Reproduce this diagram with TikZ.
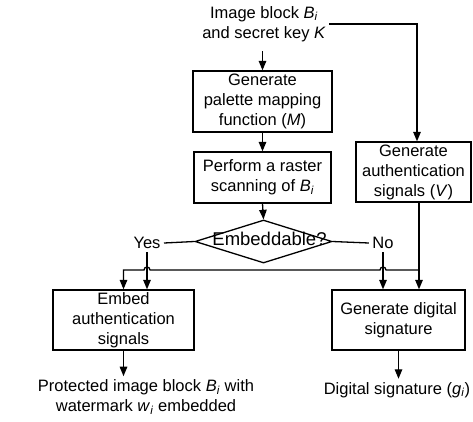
\documentclass[tikz,border=0pt]{standalone}
\usepackage{fontspec}
\setmainfont{Liberation Sans}
\usetikzlibrary{shapes.geometric,arrows.meta,calc}

% italic symbol with italic subscript
\newcommand{\symsub}[2]{\textit{#1}\textsubscript{\textit{#2}}}

\begin{document}
\begin{tikzpicture}[x=1pt,y=-1pt,
  every node/.style={font=\fontsize{16.5}{20}\selectfont, align=center},
  proc/.style={draw, line width=1.3pt, inner sep=0pt},
  conn/.style={line width=1.3pt},
  arr/.style={conn, -{Triangle[length=9.5pt,width=7.5pt]}},
]
\useasboundingbox (0,0) rectangle (473,421);

% nodes
\node (src) at (264,24) {Image block \symsub{B}{i}\\and secret key \textit{K}};
\node[proc, minimum width=139pt, minimum height=61pt] (pal) at (262.5,101.5)
  {Generate\\palette mapping\\function (\textit{M})};
\node[proc, minimum width=137pt, minimum height=51pt] (scan) at (262.5,177.5)
  {Perform a raster\\scanning of \symsub{B}{i}};
\node[proc, minimum width=115pt, minimum height=60pt] (auth) at (413.5,172)
  {Generate\\authentication\\signals (\textit{V})};
\node[draw, diamond, line width=1.3pt, minimum width=137pt, minimum height=43pt,
  inner sep=0pt, label={[xshift=6pt, yshift=3pt, font=\fontsize{18.5}{20}\selectfont]center:Embeddable?}]
  (dia) at (263.5,241.5) {};
\node (yes) at (147,243) {Yes};
\node (no) at (383,243) {No};
\node[proc, minimum width=141pt, minimum height=60pt] (embed) at (123.5,320)
  {Embed\\authentication\\signals};
\node[proc, minimum width=133pt, minimum height=60pt] (dsig) at (398.5,320)
  {Generate digital\\signature};
\node (out1) at (146,397) {Protected image block \symsub{B}{i} with\\watermark \symsub{w}{i} embedded};
\node (out2) at (397,390) {Digital signature (\symsub{g}{i})};
\coordinate (j) at (419,270);

% connectors
\draw[arr] (src.east) -| ([xshift=3.5pt]auth.north);
\draw[arr, shorten <=6pt] (src.south -| pal.north) -- (pal.north);
\draw[arr] (pal.south) -- (scan.north);
\draw[arr] (scan.south) -- (dia.north);
\draw[conn] (yes.east) -- (dia.west);
\draw[conn] (dia.east) -- (no.west);
\draw[arr] (yes.south) -- (yes.south |- embed.north);
\draw[arr] (no.south) -- (no.south |- dsig.north);
\draw[arr] (auth.south -| j) -- (j |- dsig.north);
\draw[arr] (j) -- ($(j -| no.south)+(3,0)$) arc[start angle=0, end angle=-180, radius=3]
  -- ($(j -| yes.south)+(3,0)$) arc[start angle=0, end angle=-180, radius=3]
  -| (embed.north);
\draw[arr] (embed.south) -- (embed.south |- out1.north);
\draw[arr] (dsig.south) -- (dsig.south |- out2.north);
\end{tikzpicture}
\end{document}
